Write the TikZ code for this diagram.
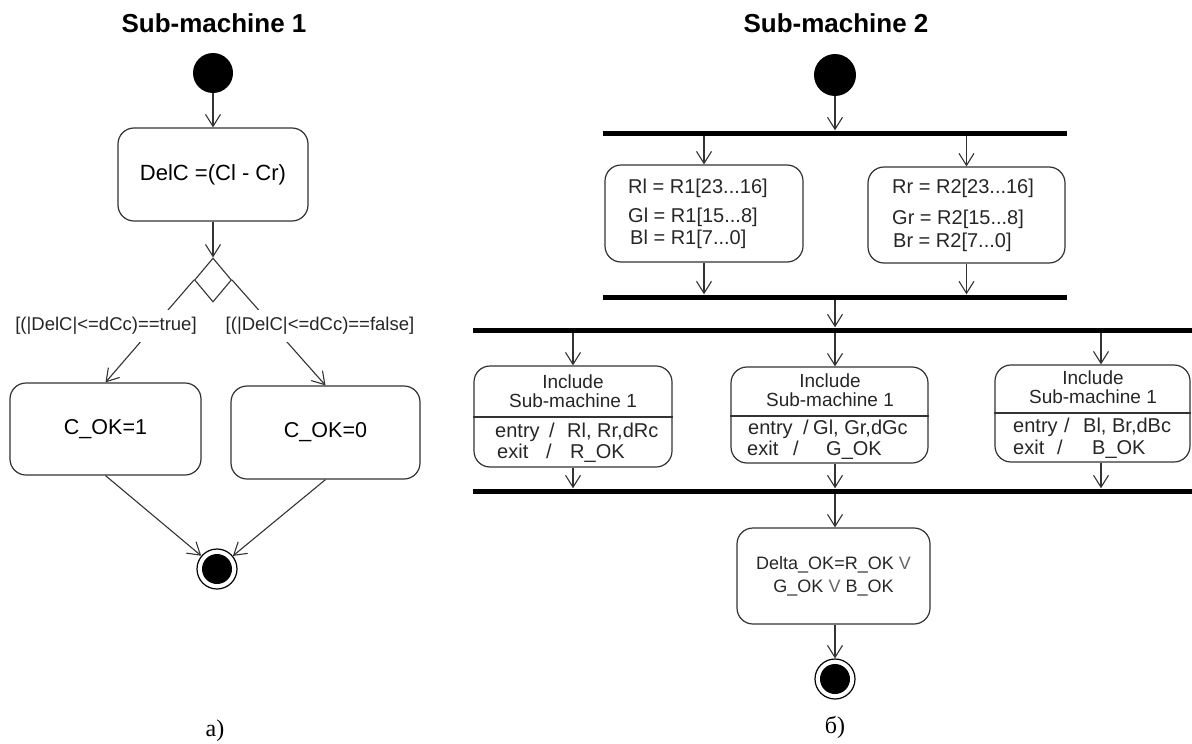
\documentclass[tikz,border=0pt]{standalone}
\usepackage{fontspec}
\setmainfont{Liberation Serif}
\newfontfamily\arial{Liberation Sans}
\usetikzlibrary{arrows.meta,shapes.geometric}
\begin{document}
\begin{tikzpicture}[x=1pt,y=-1pt,
  arr/.style={draw=black!80, line width=1.1pt, -{Straight Barb[length=12pt,width=15pt,line width=1.1pt]}},
  plain/.style={draw=black!80, line width=1.1pt},
  state/.style={draw=black!80, line width=1.2pt, rounded corners=16pt, inner sep=0pt, rectangle},
  bar/.style={rectangle, fill=black, inner sep=0pt, minimum height=5pt},
  startnode/.style={circle, fill=black, minimum size=40pt, inner sep=0pt},
  endnode/.style={circle, draw=black, line width=1.2pt, minimum size=40pt, inner sep=0pt,
    path picture={\fill[black] (path picture bounding box.center) circle (15pt);}},
  txt/.style={font=\arial\fontsize{20}{22}\selectfont, inner sep=0pt, text=black!85},
  guard/.style={font=\arial\fontsize{18.5}{20}\selectfont, fill=white, inner xsep=1pt, inner ysep=7pt, text=black!85},
  title/.style={font=\arial\bfseries\fontsize{26}{28}\selectfont, inner sep=0pt},
  caption/.style={font=\fontsize{24}{26}\selectfont, inner sep=0pt}
]
\useasboundingbox (0,0) rectangle (1192,744);

% ---------------- Sub-machine 1 ----------------
\node[title] (t1) at (214,23) {Sub-machine 1};
\node[startnode] (i1) at (213,73) {};
\node[state, minimum width=190pt, minimum height=93pt, font=\arial\fontsize{22}{24}\selectfont] (delc) at (213,174.5) {DelC =(Cl - Cr)};
\node[diamond, draw=black!80, line width=1.1pt, minimum width=37pt, minimum height=44pt, inner sep=0pt] (dia) at (213,280) {};
\node[state, minimum width=191pt, minimum height=92pt, font=\arial\fontsize{21.5}{24}\selectfont] (c1) at (105.5,429) {C\_OK=1};
\node[state, minimum width=189pt, minimum height=93pt, font=\arial\fontsize{21.5}{24}\selectfont] (c0) at (325.5,432.5) {C\_OK=0};
\node[endnode] (f1) at (217,569) {};

\draw[arr] (i1) -- (delc.north);
\draw[arr] (delc.south) -- (dia.north);
\draw[arr] (dia.west) -- (c1.north);
\draw[arr] (dia.east) -- (c0.north);
\node[guard] (g1) at (106,326) {[(|DelC|<=dCc)==true]};
\node[guard] (g0) at (320,326) {[(|DelC|<=dCc)==false]};
\draw[arr] (c1.south) -- (f1);
\draw[arr] (c0.south) -- (f1);
\node[caption] (capa) at (215,731) {a)};

% ---------------- Sub-machine 2 ----------------
\node[title] (t2) at (836,23) {Sub-machine 2};
\node[startnode, minimum size=42pt] (i2) at (835,75) {};
\node[bar, minimum width=464pt] (b1) at (835,133) {};
\node[bar, minimum width=464pt] (b2) at (835,297) {};
\node[bar, minimum width=719pt] (b3) at (832.5,330) {};
\node[bar, minimum width=719pt] (b4) at (832.5,491) {};

\node[state, minimum width=198pt, minimum height=97pt] (L) at (704,213.5) {};
\node[state, minimum width=197pt, minimum height=96pt] (R) at (966.5,215) {};
\node[txt, anchor=base west] (l1) at (628,193) {Rl = R1[23...16]};
\node[txt, anchor=base west] (l2) at (628,222) {Gl = R1[15...8]};
\node[txt, anchor=base west] (l3) at (630,244) {Bl = R1[7...0]};
\node[txt, anchor=base west] (r1) at (892,193) {Rr = R2[23...16]};
\node[txt, anchor=base west] (r2) at (892,224) {Gr = R2[15...8]};
\node[txt, anchor=base west] (r3) at (893,247) {Br = R2[7...0]};

\node[state, minimum width=198pt, minimum height=101pt] (A) at (573,416.5) {};
\node[state, minimum width=197pt, minimum height=96pt] (B) at (829.5,415) {};
\node[state, minimum width=195pt, minimum height=97pt] (C) at (1092.5,413.5) {};
\draw[plain] (A.west |- 0,417) -- (A.east |- 0,417);
\draw[plain] (B.west |- 0,416) -- (B.east |- 0,416);
\draw[plain] (C.west |- 0,413) -- (C.east |- 0,413);

\node[txt, align=center, font=\arial\fontsize{19}{19}\selectfont] (Ah) at (573,391) {Include\\Sub-machine 1};
\node[txt, align=center, font=\arial\fontsize{19}{19}\selectfont] (Bh) at (830,390) {Include\\Sub-machine 1};
\node[txt, align=center, font=\arial\fontsize{19}{19}\selectfont] (Ch) at (1093,387) {Include\\Sub-machine 1};

\node[txt, anchor=base west] (Ae) at (495,437) {entry};
\node[txt, anchor=base] (As1) at (552,437) {/};
\node[txt, anchor=base west] (Ae2) at (567,437) {Rl, Rr,dRc};
\node[txt, anchor=base west] (Ax) at (497,458) {exit};
\node[txt, anchor=base] (As2) at (549,458) {/};
\node[txt, anchor=base west] (Ax2) at (570,458) {R\_OK};

\node[txt, anchor=base west] (Be) at (748,434) {entry};
\node[txt, anchor=base] (Bs1) at (806,434) {/};
\node[txt, anchor=base west] (Be2) at (813,434) {Gl, Gr,dGc};
\node[txt, anchor=base west] (Bx) at (747,455) {exit};
\node[txt, anchor=base] (Bs2) at (796,455) {/};
\node[txt, anchor=base west] (Bx2) at (826,455) {G\_OK};

\node[txt, anchor=base west] (Ce) at (1013,432) {entry};
\node[txt, anchor=base] (Cs1) at (1067,432) {/};
\node[txt, anchor=base west] (Ce2) at (1083,432) {Bl, Br,dBc};
\node[txt, anchor=base west] (Cx) at (1013,454) {exit};
\node[txt, anchor=base] (Cs2) at (1060,454) {/};
\node[txt, anchor=base west] (Cx2) at (1092,454) {B\_OK};

\node[state, minimum width=193pt, minimum height=96pt, align=center,
      font=\arial\fontsize{18}{23}\selectfont, text=black!85] (D) at (833.5,576)
      {Delta\_OK=R\_OK {\color{black!60}V}\\G\_OK {\color{black!60}V} B\_OK};
\node[endnode] (f2) at (835,679) {};
\node[caption] (capb) at (835,727) {б)};

\coordinate (xB) at (835,0);
\coordinate (xC) at (1101,0);

\draw[arr] (i2) -- (b1.north -| i2);
\draw[arr] (b1.south -| L.north) -- (L.north);
\draw[arr] (b1.south -| R.north) -- (R.north);
\draw[arr] (L.south) -- (b2.north -| L.south);
\draw[arr] (R.south) -- (b2.north -| R.south);
\draw[arr] (b2.south -| xB) -- (b3.north -| xB);
\draw[arr] (b3.south -| A.north) -- (A.north);
\draw[arr] (b3.south -| xB) -- (B.north -| xB);
\draw[arr] (b3.south -| xC) -- (C.north -| xC);
\draw[arr] (A.south) -- (b4.north -| A.south);
\draw[arr] (B.south -| xB) -- (b4.north -| xB);
\draw[arr] (C.south -| xC) -- (b4.north -| xC);
\draw[arr] (b4.south -| xB) -- (D.north -| xB);
\draw[arr] (D.south -| xB) -- (f2);
\end{tikzpicture}
\end{document}
